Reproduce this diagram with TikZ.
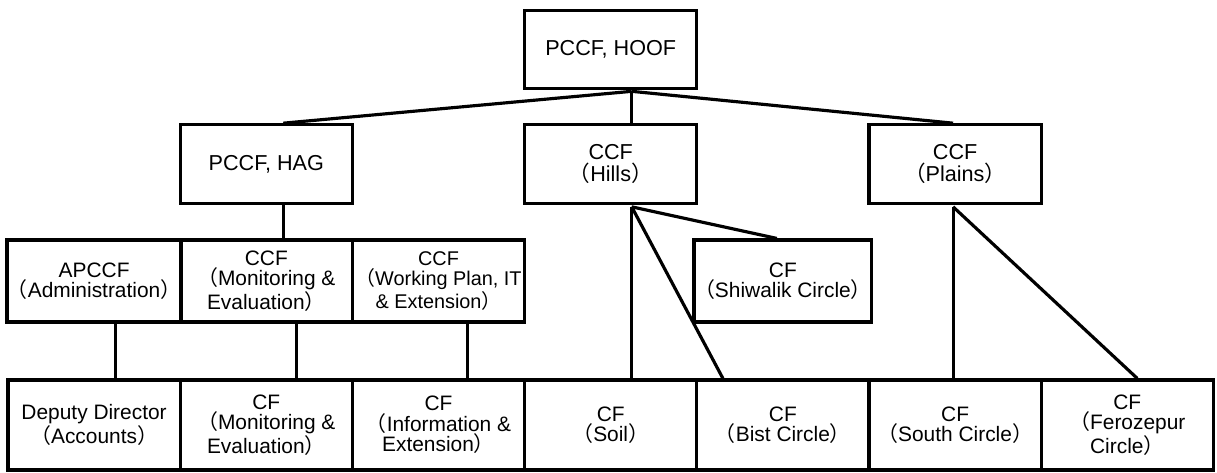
\documentclass[tikz,border=0pt]{standalone}
\usepackage{fontspec}
\setmainfont{Liberation Sans}
\newfontfamily\cjk{Noto Sans CJK JP}
\usetikzlibrary{calc,positioning}
\newcommand{\lpar}{{\cjk （}}
\newcommand{\rpar}{{\cjk ）}}

\begin{document}
\begin{tikzpicture}[x=0.02cm,y=-0.02cm,
  box/.style={draw,line width=1.8pt,minimum width=3.444cm,align=center,
    font=\fontsize{11.9}{11.6}\selectfont,inner sep=0pt},
  topbox/.style={box,minimum height=1.57cm,font=\fontsize{12.3}{12.4}\selectfont},
  midbox/.style={box,minimum height=1.64cm},
  lowbox/.style={box,minimum height=1.8cm},
  link/.style={line width=1.8pt}]
\useasboundingbox (0,0) rectangle (1217,473);
% top levels
\node [topbox] (hoof) at (610.7,49.5) {PCCF, HOOF};
\node [topbox] (hag) at (266.3,164) {PCCF, HAG};
\node [topbox] (hills) at (610.7,164) {CCF\\\lpar Hills\rpar};
\node [topbox] (plains) at (955.1,164) {CCF\\\lpar Plains\rpar};
% second row
\node [midbox] (apccf) at (94.1,281) {APCCF\\\lpar Administration\rpar};
\node [midbox] (ccfme) at (266.3,281) {CCF\\\lpar Monitoring \&\\Evaluation\rpar};
\node [midbox,font=\fontsize{11.3}{11.6}\selectfont] (ccfwp) at (438.5,281) {CCF\\\lpar Working Plan, IT\\\& Extension\rpar};
\node [midbox] (shiw) at (782.9,281) {CF\\\lpar Shiwalik Circle\rpar};
% bottom row
\node [lowbox] (dd) at (94.1,425) {Deputy Director\\\lpar Accounts\rpar};
\node [lowbox] (cfme) at (266.3,425) {CF\\\lpar Monitoring \&\\Evaluation\rpar};
\node [lowbox] (cfie) at (438.5,425) {CF\\\lpar Information \&\\Extension\rpar};
\node [lowbox] (soil) at (610.7,425) {CF\\\lpar Soil\rpar};
\node [lowbox] (bist) at (782.9,425) {CF\\\lpar Bist Circle\rpar};
\node [lowbox] (south) at (955.1,425) {CF\\\lpar South Circle\rpar};
\node [lowbox] (feroz) at (1127.3,425) {CF\\\lpar Ferozepur\\Circle\rpar};
% connectors
\coordinate (hub) at ($(hoof.south)+(21,1)$);
\draw [link] (hub) -- ($(hag.north)+(17,0)$);
\draw [link] (hub) -- ($(hills.north)+(21,0)$);
\draw [link] (hub) -- ($(plains.north)+(-2,0)$);
\draw [link] ($(hag.south)+(17,0)$) -- ($(ccfme.north)+(17,0)$);
\draw [link] ($(apccf.south)+(21,0)$) -- ($(dd.north)+(21,0)$);
\draw [link] ($(ccfme.south)+(30,0)$) -- ($(cfme.north)+(30,0)$);
\draw [link] ($(ccfwp.south)+(29,0)$) -- ($(cfie.north)+(29,0)$);
\coordinate (hillsfoot) at ($(hills.south)+(21,2)$);
\draw [link] (hillsfoot) -- ($(soil.north)+(21,0)$);
\draw [link] (hillsfoot) -- ($(bist.north)+(-60,0)$);
\draw [link] (hillsfoot) -- ($(shiw.north)+(-6,0)$);
\coordinate (plainsfoot) at ($(plains.south)+(-2,2)$);
\draw [link] (plainsfoot) -- ($(south.north)+(-2,0)$);
\draw [link] (plainsfoot) -- ($(feroz.north)+(10,0)$);
\end{tikzpicture}
\end{document}
